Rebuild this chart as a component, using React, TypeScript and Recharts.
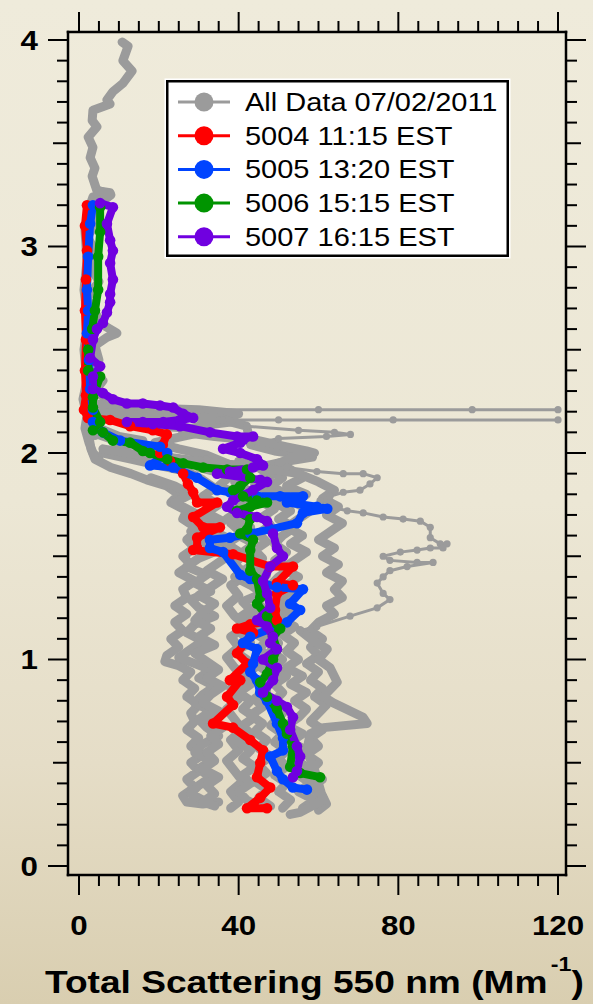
import { ComposedChart, Line, XAxis, YAxis } from 'recharts';

type Pt = [number, number]; // [total scattering Mm-1, altitude km]

// All Data 07/02/2011 — dense flight legs (drawn thick) ...
const grayTop: Pt[] = [
  [10.8, 3.99], [12.3, 3.97], [11.0, 3.9], [13.3, 3.85], [11.0, 3.79], [8.5, 3.75], [7.0, 3.71], [7.8, 3.69],
  [3.5, 3.66], [3.3, 3.61], [4.5, 3.58], [2.3, 3.53], [3.5, 3.48], [2.8, 3.43], [4.0, 3.38], [3.3, 3.34],
  [4.5, 3.27], [7.8, 3.26], [3.5, 3.24], [2.8, 3.2], [1.5, 3.08], [2.0, 2.93], [1.25, 2.79], [2.3, 2.64],
  [1.25, 2.5], [2.0, 2.35], [1.0, 2.26], [2.0, 2.18], [1.5, 2.12], [2.5, 2.05], [3.5, 2.0], [5, 1.97],
];
const grayColumn: Pt[] = [
  [5, 3.27], [8, 3.25], [6, 3.22], [3, 3.18], [5, 3.12], [2, 3.05], [4, 2.98], [3, 2.9], [5, 2.83], [2, 2.75],
  [4, 2.68], [6, 2.62], [9.5, 2.58], [7, 2.56], [4, 2.52], [5, 2.45], [3, 2.4], [6, 2.35], [4, 2.3], [7, 2.26],
  [5, 2.22], [3, 2.18],
];
const grayLeg1: Pt[] = [
  [3, 2.22], [2, 2.15], [2.5, 2.08], [3, 2.02], [4, 1.97], [8, 1.93], [13, 1.9], [17, 1.87], [22, 1.84], [25, 1.8],
  [23, 1.76], [27, 1.72], [26, 1.68], [30, 1.63], [27, 1.58], [29, 1.54], [26, 1.5], [28, 1.46], [25, 1.42],
  [29, 1.38], [26, 1.34], [27, 1.3], [24, 1.26], [27, 1.22], [24, 1.18], [26, 1.14], [23, 1.1], [25, 1.06],
  [22, 1.02], [21.5, 0.99], [25, 0.97], [28, 0.94], [26, 0.9], [29, 0.86], [27, 0.82], [30, 0.78], [28, 0.74],
  [29, 0.7], [27, 0.66], [30, 0.62], [28, 0.58], [31, 0.54], [28, 0.5], [30, 0.46], [27, 0.42], [29, 0.38],
  [26, 0.34], [27, 0.31], [31, 0.3], [35, 0.31],
];
const grayLeg2: Pt[] = [
  [4, 2.2], [5, 2.12], [10, 2.08], [16, 2.06], [11, 2.03], [6, 2.0], [13, 1.97], [20, 1.94], [27, 1.91], [31, 1.87],
  [34, 1.83], [31, 1.79], [35, 1.75], [32, 1.71], [36, 1.67], [33, 1.63], [37, 1.59], [34, 1.55], [38, 1.51],
  [35, 1.47], [32, 1.43], [36, 1.39], [33, 1.35], [30, 1.31], [34, 1.27], [31, 1.23], [29, 1.19], [33, 1.15],
  [30, 1.11], [34, 1.07], [29, 1.03], [32, 0.99], [35, 0.95], [32, 0.91], [36, 0.87], [33, 0.83], [31, 0.79],
  [35, 0.75], [32, 0.71], [36, 0.67], [33, 0.63], [35, 0.59], [32, 0.55], [34, 0.51], [31, 0.47], [35, 0.43],
  [32, 0.39], [34, 0.35], [31, 0.31], [34, 0.29],
];
const grayLeg3: Pt[] = [
  [5, 2.18], [12, 2.15], [20, 2.13], [28, 2.12], [33, 2.11], [26, 2.08], [19, 2.05], [25, 2.02], [32, 1.99],
  [37, 1.95], [42, 1.91], [39, 1.86], [43, 1.81], [40, 1.76], [42, 1.71], [38, 1.66], [41, 1.61], [37, 1.56],
  [41, 1.51], [39, 1.46], [42, 1.41], [38, 1.36], [40, 1.31], [37, 1.26], [39, 1.21], [42, 1.16], [38, 1.11],
  [40, 1.06], [37, 1.01], [39, 0.96], [42, 0.91], [38, 0.86], [40, 0.81], [37, 0.76], [39, 0.71], [41, 0.66],
  [38, 0.61], [40, 0.56], [37, 0.51], [39, 0.46], [41, 0.41], [38, 0.36], [40, 0.31], [38, 0.28],
];
const grayLeg4: Pt[] = [
  [3, 2.24], [12, 2.22], [30, 2.21], [40, 2.19], [36, 2.16], [42, 2.13], [43, 2.04], [49, 2.01],
  [56, 1.99], [58.5, 1.98], [52, 1.96], [45, 1.93], [48, 1.89], [44, 1.85], [48, 1.81], [45, 1.77], [49, 1.73],
  [46, 1.69], [48, 1.65], [45, 1.61], [47, 1.57], [44, 1.53], [46, 1.49], [43, 1.45], [47, 1.41], [45, 1.37],
  [48, 1.33], [44, 1.29], [46, 1.25], [43, 1.21], [46, 1.17], [44, 1.13], [47, 1.09], [45, 1.05], [48, 1.01],
  [45, 0.97], [48, 0.93], [45, 0.89], [47, 0.85], [44, 0.81], [46, 0.77], [43, 0.73], [46, 0.69], [44, 0.65],
  [47, 0.61], [45, 0.57], [48, 0.53], [45, 0.49], [47, 0.45], [44, 0.41], [47, 0.37], [45, 0.33], [48, 0.29],
];
const grayLeg5: Pt[] = [
  [4, 2.2], [10, 2.19], [20, 2.18], [35, 2.17], [38, 2.15], [30, 2.13], [26, 2.1], [34, 2.08], [45, 2.06],
  [52, 2.03], [57, 2.01], [59, 2.0], [54, 1.98],
  [50, 1.95], [53, 1.92], [56, 1.88], [52, 1.84], [57, 1.8], [54, 1.76], [58, 1.72], [55, 1.68], [52, 1.64],
  [56, 1.6], [53, 1.56], [57, 1.52], [54, 1.48], [51, 1.44], [55, 1.4], [52, 1.36], [54, 1.32], [50, 1.28],
  [53, 1.24], [50, 1.2], [54, 1.16], [51, 1.12], [54, 1.08], [52, 1.04], [55, 1.0], [52, 0.96], [56, 0.92],
  [53, 0.88], [57, 0.84], [54, 0.8], [57, 0.76], [55, 0.72], [52, 0.68], [56, 0.64], [53, 0.6], [57, 0.56],
  [54, 0.52], [57, 0.48], [55, 0.44], [58, 0.4], [55, 0.36], [59, 0.32], [56, 0.28],
];
const grayLeg6: Pt[] = [
  [6, 2.02], [15, 1.99], [25, 1.97], [35, 1.95], [45, 1.93], [55, 1.9], [60, 1.86], [64, 1.82], [61, 1.78],
  [65, 1.74], [62, 1.7], [66, 1.66], [63, 1.62], [60, 1.58], [64, 1.54], [61, 1.5], [65, 1.46], [62, 1.42],
  [66, 1.38], [64, 1.34], [66, 1.3], [62, 1.26], [64, 1.22], [60, 1.18], [58, 1.14], [61, 1.1], [58, 1.06],
  [60, 1.02], [57, 0.98], [60, 0.94], [58, 0.9], [61, 0.86], [59, 0.82], [62, 0.78], [60, 0.74], [58, 0.7],
  [61, 0.66], [58, 0.62], [60, 0.58], [57, 0.54], [60, 0.5], [58, 0.46], [61, 0.42], [58, 0.38], [61, 0.34],
  [62, 0.3], [60, 0.27],
];
const grayLeg7: Pt[] = [
  [18, 1.88], [24, 1.84], [28, 1.8], [24, 1.76], [29, 1.71], [33, 1.67], [28, 1.62], [31, 1.57], [35, 1.53],
  [30, 1.49], [27, 1.45], [32, 1.41], [29, 1.37], [33, 1.33], [28, 1.29], [30, 1.25], [34, 1.21], [29, 1.17],
  [27, 1.13], [31, 1.09], [28, 1.05], [25, 1.01], [29, 0.98], [33, 0.95], [30, 0.91], [34, 0.87], [31, 0.83],
  [29, 0.79], [33, 0.75], [30, 0.71], [32, 0.67], [35, 0.63], [31, 0.59], [29, 0.55], [33, 0.51], [30, 0.47],
  [33, 0.43], [30, 0.39], [28, 0.35], [31, 0.32], [33, 0.3],
];
const grayLeg8: Pt[] = [
  [30, 1.93], [38, 1.89], [35, 1.84], [40, 1.8], [44, 1.76], [40, 1.72], [37, 1.68], [43, 1.64], [40, 1.6],
  [44, 1.56], [41, 1.52], [45, 1.48], [42, 1.44], [39, 1.4], [43, 1.36], [46, 1.32], [41, 1.28], [43, 1.24],
  [40, 1.2], [44, 1.16], [41, 1.12], [43, 1.08], [39, 1.04], [42, 1.0], [44, 0.96], [41, 0.92], [43, 0.88],
  [40, 0.84], [43, 0.8], [41, 0.76], [44, 0.72], [41, 0.68], [43, 0.64], [40, 0.6], [43, 0.56], [41, 0.52],
  [44, 0.48], [41, 0.44], [43, 0.4], [40, 0.36], [42, 0.32], [44, 0.3],
];
const grayLeg9: Pt[] = [
  [40, 1.96], [47, 1.92], [51, 1.88], [48, 1.84], [52, 1.8], [49, 1.76], [53, 1.72], [50, 1.68], [54, 1.64],
  [51, 1.6], [49, 1.56], [52, 1.52], [49, 1.48], [53, 1.44], [50, 1.4], [48, 1.36], [51, 1.32], [48, 1.28],
  [51, 1.24], [48, 1.2], [50, 1.16], [47, 1.12], [50, 1.08], [48, 1.04], [51, 1.0], [49, 0.96], [52, 0.92],
  [49, 0.88], [51, 0.84], [49, 0.8], [52, 0.76], [50, 0.72], [48, 0.68], [51, 0.64], [49, 0.6], [52, 0.56],
  [50, 0.52], [52, 0.48], [49, 0.44], [52, 0.4], [50, 0.36], [53, 0.32], [51, 0.28],
];
const grayLoopBase: Pt[] = [
  [55.4, 1.14], [58, 1.1], [62.2, 1.05], [60, 1.0], [62.9, 0.96], [64.7, 0.89], [61.2, 0.82],
  [63.7, 0.79], [71.2, 0.72], [72.2, 0.69], [61.2, 0.67], [57.9, 0.64], [57.1, 0.56], [59.1, 0.46], [61.2, 0.32],
  [55.4, 0.26], [52.9, 0.25],
];

// ... and sparse excursions (drawn thin)
const graySpikeA: Pt[] = [[30, 2.21], [60, 2.21], [98.5, 2.21], [120, 2.21]];
const graySpikeB: Pt[] = [[35, 2.16], [50, 2.16], [78.7, 2.16], [120, 2.16]];
const grayShelf: Pt[] = [
  [36, 2.16], [42, 2.13], [55, 2.11], [64, 2.1], [68, 2.09], [62, 2.08], [50, 2.07], [43, 2.04],
];
const grayLoopOut: Pt[] = [
  [4, 2.08], [10, 2.04], [20, 2.0], [32, 1.97], [42, 1.95], [52.1, 1.93], [59.6, 1.91], [66.2, 1.9], [71.2, 1.9],
  [74.7, 1.88], [72.9, 1.85], [70.4, 1.82], [66.2, 1.81], [62.9, 1.79], [60.4, 1.77], [62.9, 1.74], [67.2, 1.72],
  [71.2, 1.71], [76.2, 1.69], [81.2, 1.68], [85.5, 1.67], [88, 1.64], [88, 1.59], [90.5, 1.56], [92.2, 1.56],
  [91.2, 1.54], [88, 1.54], [84.7, 1.53], [80.5, 1.52], [76.2, 1.5], [77.9, 1.48], [84.7, 1.47], [88.7, 1.47],
  [82.2, 1.45], [77.9, 1.43], [76.2, 1.4], [74.7, 1.37], [76.2, 1.32], [77.9, 1.29], [74.7, 1.25], [67.9, 1.21],
  [59.6, 1.16], [55.4, 1.14],
];

const red5004: Pt[] = [
  [2.0, 3.2], [1.5, 3.1], [2.0, 2.98], [1.75, 2.84], [1.5, 2.69], [1.75, 2.55], [1.5, 2.4], [1.75, 2.28],
  [1.25, 2.21], [2.25, 2.17], [7.8, 2.16], [12.8, 2.13], [18.5, 2.11], [22.0, 2.09], [21.0, 2.04], [20.3, 2.0],
  [22.8, 1.96], [26.1, 1.9], [27.3, 1.85], [28.6, 1.81], [29.6, 1.76], [34.6, 1.76], [28.6, 1.69], [31.1, 1.64],
  [35.3, 1.64], [29.6, 1.59], [29.6, 1.54], [28.6, 1.53], [38.6, 1.51], [47.9, 1.45], [53.6, 1.45], [49.6, 1.37],
  [53.6, 1.36], [49.6, 1.32], [49.1, 1.24], [49.6, 1.19], [42.9, 1.17], [39.6, 1.15], [43.6, 1.13], [39.6, 1.03],
  [42.1, 0.98], [37.8, 0.9], [40.4, 0.9], [37.1, 0.82], [38.6, 0.78], [33.6, 0.69], [38.6, 0.67], [42.9, 0.61],
  [46.1, 0.56], [45.4, 0.5], [44.6, 0.43], [47.9, 0.38], [45.4, 0.33], [42.1, 0.28], [47.1, 0.28],
];
const blue5005: Pt[] = [
  [3.5, 3.2], [2.8, 3.11], [2.3, 2.95], [2.0, 2.79], [2.3, 2.69], [2.0, 2.58], [2.5, 2.45], [2.8, 2.31],
  [3.5, 2.21], [3.5, 2.15], [6.0, 2.1], [10.3, 2.06], [20.3, 2.03], [22.1, 2.0], [17.8, 1.94], [23.6, 1.93],
  [29.6, 1.88], [34.6, 1.82], [37.8, 1.81], [44.6, 1.79], [50.4, 1.79], [56.1, 1.79], [52.1, 1.76], [59.6, 1.74],
  [62.2, 1.73], [56.1, 1.71], [54.6, 1.66], [47.9, 1.63], [42.9, 1.61], [37.8, 1.59], [32.8, 1.58], [32.8, 1.54],
  [36.1, 1.52], [40.4, 1.41], [42.9, 1.39], [49.6, 1.35], [56.1, 1.34], [52.9, 1.27], [55.4, 1.24], [52.1, 1.18],
  [42.9, 1.11], [41.1, 1.08], [44.6, 1.05], [43.6, 0.98], [42.9, 0.94], [44.6, 0.9], [45.4, 0.84], [47.1, 0.8],
  [49.6, 0.69], [51.1, 0.62], [51.1, 0.56], [47.9, 0.53], [49.6, 0.46], [51.1, 0.42], [53.6, 0.38], [57.1, 0.37],
];
const green5006: Pt[] = [
  [5.3, 3.19], [5.3, 3.07], [4.8, 2.95], [4.8, 2.79], [4.0, 2.69], [3.3, 2.6], [2.3, 2.5], [2.3, 2.4], [5.3, 2.37],
  [3.5, 2.27], [3.5, 2.22], [5.3, 2.15], [3.5, 2.11], [6.0, 2.1], [8.5, 2.06], [12.8, 2.05], [16.0, 2.01],
  [17.8, 2.0], [22.1, 1.97], [26.1, 1.95], [31.1, 1.93], [37.1, 1.92], [42.1, 1.92], [42.9, 1.88], [40.4, 1.84],
  [38.6, 1.82], [41.1, 1.79], [44.6, 1.77], [47.1, 1.76], [42.9, 1.74], [39.6, 1.72], [42.9, 1.68], [42.1, 1.63],
  [40.4, 1.61], [43.6, 1.58], [42.9, 1.53], [42.9, 1.43], [44.6, 1.39], [45.4, 1.3], [44.6, 1.27], [47.1, 1.21],
  [50.4, 1.15], [48.6, 1.11], [49.6, 1.05], [48.6, 1.0], [47.1, 0.93], [45.4, 0.89], [47.1, 0.82], [49.6, 0.76],
  [51.1, 0.69], [52.1, 0.64], [53.6, 0.58], [52.9, 0.48], [55.4, 0.45], [60.4, 0.43],
];
const purple5007: Pt[] = [
  [5.3, 3.21], [8.5, 3.19], [7.0, 3.11], [7.8, 3.03], [8.5, 2.98], [7.8, 2.92], [8.5, 2.84], [7.8, 2.77],
  [7.8, 2.73], [7.0, 2.68], [6.0, 2.63], [4.5, 2.6], [3.5, 2.55], [2.8, 2.46], [5.3, 2.42], [3.5, 2.37],
  [3.5, 2.31], [6.0, 2.29], [8.5, 2.26], [12.0, 2.24], [16.0, 2.24], [20.3, 2.23], [23.6, 2.22], [26.1, 2.19],
  [28.6, 2.17], [25.3, 2.16], [21.1, 2.15], [16.0, 2.15], [12.0, 2.15], [18.5, 2.14], [25.3, 2.13], [32.8, 2.1],
  [39.6, 2.08], [43.6, 2.08], [40.4, 2.05], [36.1, 2.02], [40.4, 2.0], [44.6, 1.97], [46.1, 1.94], [43.6, 1.93],
  [37.8, 1.91], [34.6, 1.9], [45.4, 1.87], [47.1, 1.86], [43.6, 1.82], [38.6, 1.77], [37.1, 1.74], [39.6, 1.71],
  [44.6, 1.69], [47.1, 1.67], [48.6, 1.61], [49.6, 1.54], [51.1, 1.5], [47.9, 1.45], [46.1, 1.38], [47.1, 1.32],
  [47.9, 1.25], [44.6, 1.19], [47.1, 1.16], [48.6, 1.11], [47.9, 1.08], [49.6, 1.05], [46.1, 1.0], [49.6, 0.96],
  [48.6, 0.9], [46.1, 0.84], [49.6, 0.8], [52.1, 0.77], [53.6, 0.72], [52.9, 0.66], [54.6, 0.58], [55.4, 0.53],
  [54.6, 0.46], [53.6, 0.43],
];

const grayThick = [grayTop, grayColumn, grayLeg1, grayLeg7, grayLeg2, grayLeg3, grayLeg8, grayLeg4, grayLeg9,
  grayLeg5, grayLeg6, grayLoopBase];
const grayThin = [graySpikeA, graySpikeB, grayShelf, grayLoopOut];

const series = [
  { name: 'All Data 07/02/2011', color: '#9b9b9b' },
  { name: '5004 11:15 EST', color: '#ff0000', data: red5004 },
  { name: '5005 13:20 EST', color: '#0044ff', data: blue5005 },
  { name: '5006 15:15 EST', color: '#009400', data: green5006 },
  { name: '5007 16:15 EST', color: '#7000e0', data: purple5007 },
];

const xTicks = Array.from({ length: 25 }, (_, i) => i * 5);
const yTicks = Array.from({ length: 41 }, (_, i) => i / 10);
const xLabels = [0, 40, 80, 120];

const STRETCH = 1.16;
const FONT = '"Liberation Sans", Arial, Helvetica, sans-serif';
const GRAY = series[0].color;

const toRows = (pts: Pt[]) => pts.map(([x, alt]) => ({ x, alt }));

const near = (a: number, b: number) => Math.abs(a - b) < 1e-6;

const yLen = (v: number) => (near(v, Math.round(v)) ? 20 : near(v * 2, Math.round(v * 2)) ? 15 : 11);
const xLen = (v: number) => (xLabels.includes(v) ? 20 : 11);

const LeftTick = (p: any) => {
  const v = p.payload.value;
  const y = p.payload.coordinate;
  const x = p.x;
  const major = near(v, Math.round(v));
  return (
    <g>
      <line x1={x} x2={x - yLen(v)} y1={y} y2={y} stroke="#000" strokeWidth={2} />
      {major && (
        <text transform={`translate(${x - 30},${y}) scale(${STRETCH},1)`} textAnchor="end" dy="0.36em"
          fontSize={27} fontWeight="bold" fontFamily={FONT} fill="#000">{Math.round(v)}</text>
      )}
    </g>
  );
};

const RightTick = (p: any) => {
  const v = p.payload.value;
  const y = p.payload.coordinate;
  return <line x1={p.x} x2={p.x + yLen(v)} y1={y} y2={y} stroke="#000" strokeWidth={2} />;
};

const BottomTick = (p: any) => {
  const v = p.payload.value;
  const x = p.payload.coordinate;
  const y = p.y;
  return (
    <g>
      <line x1={x} x2={x} y1={y} y2={y + xLen(v)} stroke="#000" strokeWidth={2} />
      {xLabels.includes(v) && (
        <text transform={`translate(${x},${y + 60}) scale(${STRETCH},1)`} textAnchor="middle"
          fontSize={27} fontWeight="bold" fontFamily={FONT} fill="#000">{v}</text>
      )}
    </g>
  );
};

const TopTick = (p: any) => {
  const v = p.payload.value;
  const x = p.payload.coordinate;
  return <line x1={x} x2={x} y1={p.y} y2={p.y - xLen(v)} stroke="#000" strokeWidth={2} />;
};

const frame = { stroke: '#000', strokeWidth: 2.5, strokeLinecap: 'square' as const };

const App = () => {
  return (
    <div
      style={{
        position: 'absolute', left: 0, top: 0, width: 593, height: 1004, overflow: 'hidden',
        background: 'linear-gradient(to bottom, #efebdb 0%, #ece7d5 50%, #e5ddc7 76%, #d9ceb0 100%)',
      }}
    >
      <ComposedChart width={593} height={1004} margin={{ top: 31, right: 26, bottom: 128, left: 67 }}>
        <XAxis xAxisId="b" type="number" dataKey="x" orientation="bottom" domain={[-2.75, 122]} allowDataOverflow
          ticks={xTicks} interval={0} height={1} tickSize={0} tickMargin={0} tickLine={false} axisLine={frame}
          tick={BottomTick} />
        <XAxis xAxisId="t" type="number" dataKey="x" orientation="top" domain={[-2.75, 122]} allowDataOverflow
          ticks={xTicks} interval={0} height={1} tickSize={0} tickMargin={0} tickLine={false} axisLine={frame}
          tick={TopTick} />
        <YAxis yAxisId="l" type="number" orientation="left" domain={[-0.0436, 4.0387]} allowDataOverflow
          ticks={yTicks} interval={0} width={1} tickSize={0} tickMargin={0} tickLine={false} axisLine={frame}
          tick={LeftTick} />
        <YAxis yAxisId="r" type="number" orientation="right" domain={[-0.0436, 4.0387]} allowDataOverflow
          ticks={yTicks} interval={0} width={1} tickSize={0} tickMargin={0} tickLine={false} axisLine={frame}
          tick={RightTick} />
        {grayThin.map((leg, i) => (
          <Line key={`thin${i}`} xAxisId="b" yAxisId="l" data={toRows(leg)} dataKey="alt" stroke={GRAY}
            strokeWidth={3} strokeLinejoin="round" dot={{ r: 3.6, fill: GRAY, stroke: 'none' }} activeDot={false}
            isAnimationActive={false} />
        ))}
        {grayThick.map((leg, i) => (
          <Line key={`thick${i}`} xAxisId="b" yAxisId="l" data={toRows(leg)} dataKey="alt" stroke={GRAY}
            strokeWidth={9} strokeLinejoin="round" strokeLinecap="round" dot={false} activeDot={false}
            isAnimationActive={false} />
        ))}
        {series.slice(1).map((s, i) => (
          <Line key={`flight${i}`} xAxisId="b" yAxisId="l" data={toRows(s.data as Pt[])} dataKey="alt"
            stroke={s.color} strokeWidth={8} strokeLinejoin="round" strokeLinecap="round"
            dot={{ r: 5.3, fill: s.color, stroke: 'none' }} activeDot={false} isAnimationActive={false} />
        ))}
      </ComposedChart>

      {/* legend */}
      <svg style={{ position: 'absolute', left: 163, top: 77 }} width={349} height={183}>
        <rect x={1.5} y={1.5} width={346} height={180} fill="#fff" />
        <rect x={4.25} y={4.25} width={340.5} height={174.5} fill="#fff" stroke="#000" strokeWidth={2.5} />
        {series.map((s, i) => {
          const cy = 25 + i * 33.7;
          return (
            <g key={s.name}>
              <line x1={15} x2={67} y1={cy} y2={cy} stroke={s.color} strokeWidth={3} />
              <circle cx={41} cy={cy} r={9.5} fill={s.color} />
              <text transform={`translate(82,${cy + 9}) scale(${STRETCH},1)`} fontSize={25} fontFamily={FONT}
                fill="#000">{s.name}</text>
            </g>
          );
        })}
      </svg>

      {/* x axis title */}
      <svg style={{ position: 'absolute', left: 0, top: 0, pointerEvents: 'none' }} width={593} height={1004}>
        <text transform={`translate(45,993) scale(${STRETCH},1)`} fontSize={32} fontWeight="bold" fontFamily={FONT}
          fill="#000">
          Total Scattering 550 nm (Mm
          <tspan fontSize={20} dx={3} dy={-22}>-1</tspan>
          <tspan fontSize={32} dy={22}>)</tspan>
        </text>
      </svg>
    </div>
  );
};

export default App;
